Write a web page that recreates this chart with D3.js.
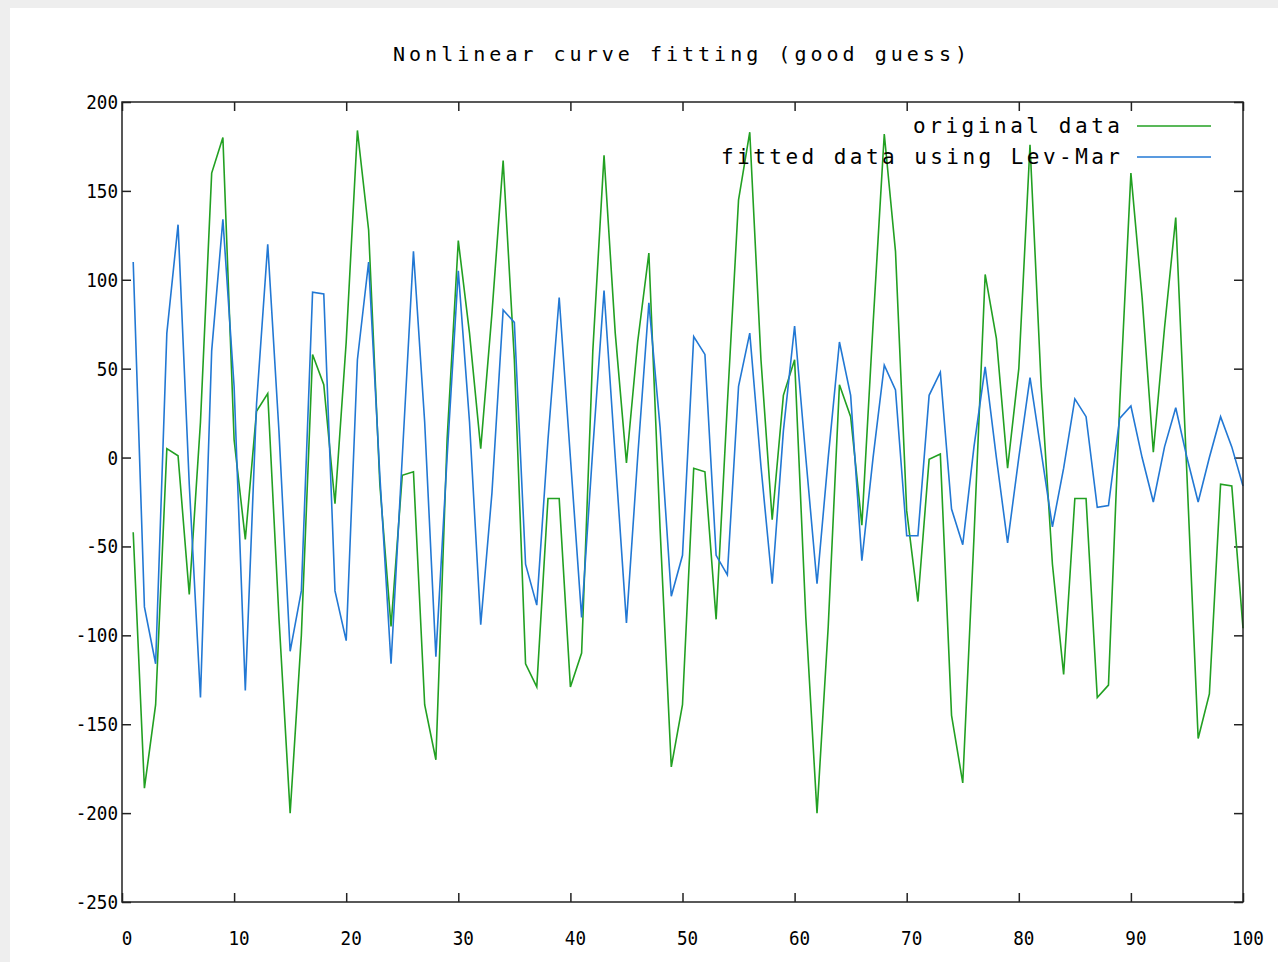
<!DOCTYPE html>
<html>
<head>
<meta charset="utf-8">
<script src="https://d3js.org/d3.v7.min.js"></script>
<style>
  body { margin: 0; background: #eeeeee; }
  svg { display: block; }
  text { font-family: "DejaVu Sans Mono", "Liberation Mono", monospace; fill: #000; }
</style>
</head>
<body>
<svg width="1278" height="962"></svg>
<script>
// Data, x = 1..100
var xValues = d3.range(1, 101);

var originalData = [
  -42, -186, -139, 5, 1, -77, 20, 160, 180, 10,
  -46, 26, 36, -90, -200, -100, 58, 41, -26, 65,
  184, 128, -15, -95, -10, -8, -139, -170, 10, 122,
  70, 5, 81, 167, 55, -116, -129, -23, -23, -129,
  -110, 60, 170, 70, -3, 65, 115, -40, -174, -139,
  -6, -8, -91, 30, 145, 183, 55, -35, 35, 55,
  -90, -200, -95, 41, 23, -38, 75, 182, 116, -30,
  -81, -1, 2, -145, -183, -45, 103, 67, -6, 50,
  176, 40, -60, -122, -23, -23, -135, -128, 30, 160,
  90, 3, 73, 135, -10, -158, -133, -15, -16, -96
];

var fittedData = [
  110, -84, -116, 70, 131, -15, -135, 60, 134, 40,
  -131, 30, 120, 15, -109, -75, 93, 92, -75, -103,
  55, 110, -10, -116, 0, 116, 20, -112, 0, 105,
  20, -94, -20, 83, 76, -60, -83, 10, 90, 0,
  -90, 5, 94, 0, -93, 0, 87, 17, -78, -55,
  68, 58, -55, -66, 40, 70, -5, -71, 15, 74,
  0, -71, 0, 65, 35, -58, 0, 52, 38, -44,
  -44, 35, 48, -29, -49, 6, 51, 0, -48, 0,
  45, 3, -39, -6, 33, 23, -28, -27, 22, 29,
  0, -25, 6, 28, 0, -25, 0, 23, 6, -16
];

var xTicks = d3.range(0, 101, 10);
var yTicks = d3.range(-250, 201, 50);

var seriesNames = ["original data", "fitted data using Lev-Mar"];
var seriesColors = ["#22a022", "#2278d4"];

var svg = d3.select("svg"),
    plot = {left: 122, right: 1243, top: 102, bottom: 902};

// page background: white sheet on a light grey edge
svg.append("rect")
  .attr("x", 10).attr("y", 8)
  .attr("width", 1268).attr("height", 954)
  .attr("fill", "#ffffff");

var x = d3.scaleLinear().domain([0, 100]).range([plot.left, plot.right]),
    y = d3.scaleLinear().domain([-250, 200]).range([plot.bottom, plot.top]);

// Title
svg.append("text")
  .attr("x", 680)
  .attr("y", 61)
  .attr("text-anchor", "middle")
  .attr("font-size", 20)
  .attr("textLength", 574)
  .attr("lengthAdjust", "spacing")
  .text("Nonlinear curve fitting (good guess)");

// Axes: gnuplot style ticks pointing inwards, mirrored on all sides
var tickLen = 9;
function noDomain(g) { g.select(".domain").remove(); }
svg.append("g")
  .attr("transform", "translate(0," + plot.bottom + ")")
  .call(d3.axisTop(x).tickValues(xTicks).tickSize(tickLen).tickFormat(""))
  .call(noDomain);
svg.append("g")
  .attr("transform", "translate(0," + plot.top + ")")
  .call(d3.axisBottom(x).tickValues(xTicks).tickSize(tickLen).tickFormat(""))
  .call(noDomain);
svg.append("g")
  .attr("transform", "translate(" + plot.left + ",0)")
  .call(d3.axisRight(y).tickValues(yTicks).tickSize(tickLen).tickFormat(""))
  .call(noDomain);
svg.append("g")
  .attr("transform", "translate(" + plot.right + ",0)")
  .call(d3.axisLeft(y).tickValues(yTicks).tickSize(tickLen).tickFormat(""))
  .call(noDomain);
svg.selectAll(".tick line").attr("stroke", "#222").attr("stroke-width", 1.5);

// Tick labels (narrow, like the gnuplot bitmap font)
svg.append("g").selectAll("text")
  .data(xTicks)
  .enter()
  .append("text")
  .attr("transform", function(d) { return "translate(" + (x(d) + 5) + ",945) scale(0.88,1)"; })
  .attr("text-anchor", "middle")
  .attr("font-size", 20)
  .text(function(d) { return d; });

svg.append("g").selectAll("text")
  .data(yTicks)
  .enter()
  .append("text")
  .attr("transform", function(d) { return "translate(118," + (y(d) + 7) + ") scale(0.88,1)"; })
  .attr("text-anchor", "end")
  .attr("font-size", 20)
  .text(function(d) { return d; });

// Lines
var line = d3.line()
  .x(function(d, i) { return x(xValues[i]); })
  .y(function(d) { return y(d); });

[originalData, fittedData].forEach(function(data, i) {
  svg.append("path")
    .datum(data)
    .attr("fill", "none")
    .attr("stroke", seriesColors[i])
    .attr("stroke-width", 1.6)
    .attr("d", line);
});

// Frame
svg.append("rect")
  .attr("x", plot.left).attr("y", plot.top)
  .attr("width", plot.right - plot.left).attr("height", plot.bottom - plot.top)
  .attr("fill", "none")
  .attr("stroke", "#222")
  .attr("stroke-width", 1.5);

// Legend
var legendLength = [207, 399];
seriesNames.forEach(function(name, i) {
  var ly = 126 + i * 31;
  svg.append("text")
    .attr("x", 1120)
    .attr("y", ly + 7)
    .attr("text-anchor", "end")
    .attr("font-size", 21)
    .attr("textLength", legendLength[i])
    .attr("lengthAdjust", "spacing")
    .text(name);
  svg.append("line")
    .attr("x1", 1137).attr("x2", 1211)
    .attr("y1", ly).attr("y2", ly)
    .attr("stroke", seriesColors[i])
    .attr("stroke-width", 1.6);
});
</script>
</body>
</html>
